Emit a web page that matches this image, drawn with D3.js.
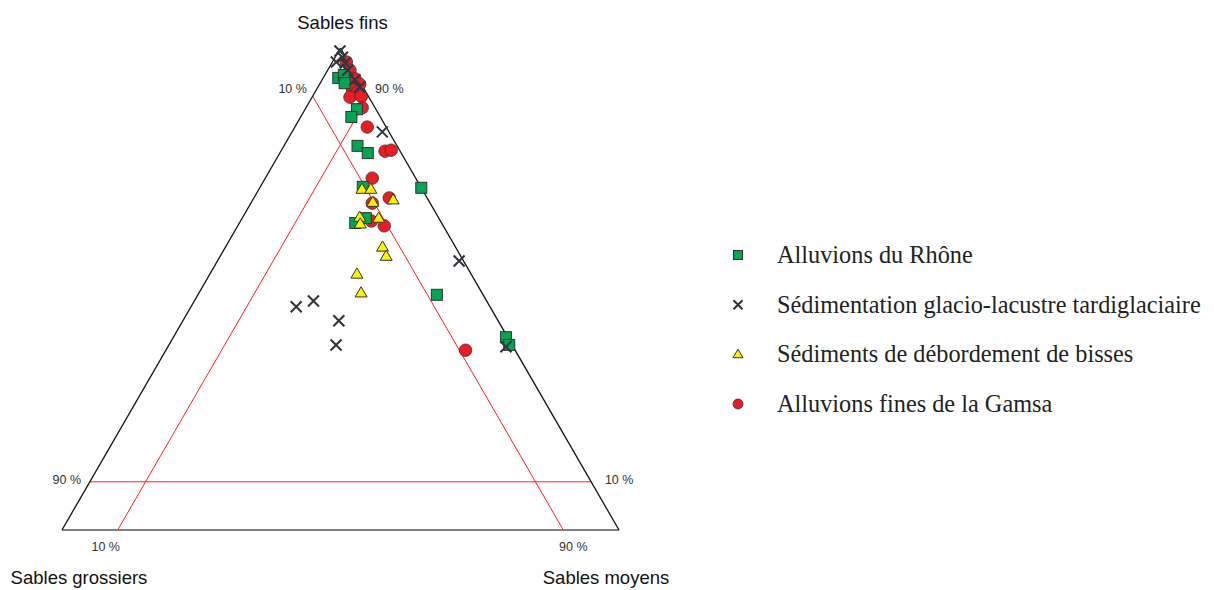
<!DOCTYPE html>
<html>
<head>
<meta charset="utf-8">
<script src="https://cdn.jsdelivr.net/npm/d3@7"></script>
<style>
  html, body { margin: 0; padding: 0; background: #fff; }
  svg { display: block; }
</style>
</head>
<body>
<svg id="chart" width="1214" height="590"></svg>
<script>
// Compositions in percent: [sables fins, sables moyens, sables grossiers]
const rhone = [
  [93.8, 2.7, 3.5], [94.4, 3.4, 2.2], [92.7, 4.4, 2.9], [87.3, 9.3, 3.4],
  [85.7, 9.1, 5.2], [79.7, 13.2, 7.1], [78.2, 15.8, 6.0], [71.0, 29.0, 0.0],
  [71.2, 18.4, 10.4], [63.7, 20.8, 15.5], [64.7, 22.2, 13.1], [48.8, 42.9, 8.3],
  [40.0, 59.7, 0.3], [38.4, 61.1, 0.5]
];
const glacio = [
  [99.4, 0.2, 0.4], [98.1, 1.3, 0.6], [97.1, 0.7, 2.2], [96.9, 2.4, 0.7],
  [95.4, 3.6, 1.0], [93.4, 5.9, 0.7], [91.9, 7.5, 0.6], [82.6, 16.2, 1.2],
  [55.8, 43.4, 0.8], [46.3, 18.9, 34.8], [47.5, 21.4, 31.1], [43.4, 28.0, 28.6],
  [38.4, 30.0, 31.6], [38.0, 60.7, 1.3]
];
const bisses = [
  [70.7, 18.5, 10.8], [70.7, 20.1, 9.2], [68.0, 21.8, 10.2], [68.5, 25.2, 6.3],
  [64.9, 21.0, 14.1], [63.5, 21.8, 14.7], [64.7, 24.5, 10.8], [58.7, 28.2, 13.1],
  [56.8, 29.8, 13.4], [53.1, 26.4, 20.5], [49.2, 29.1, 21.7]
];
const gamsa = [
  [97.1, 2.5, 0.4], [95.4, 4.0, 0.6], [93.6, 5.8, 0.6], [92.5, 7.2, 0.3],
  [91.3, 6.5, 2.2], [90.9, 7.6, 1.5], [89.8, 6.8, 3.4], [90.0, 8.7, 1.3],
  [87.6, 10.1, 2.3], [83.6, 13.0, 3.4], [78.6, 18.7, 2.7], [78.8, 19.7, 1.5],
  [73.0, 19.2, 7.8], [68.9, 24.3, 6.8], [67.8, 21.8, 10.4], [64.1, 23.5, 12.4],
  [63.1, 26.3, 10.6], [37.3, 53.8, 8.9]
];

const vertexNames = ["Sables fins", "Sables grossiers", "Sables moyens"];
const seriesNames = [
  "Alluvions du Rhône",
  "Sédimentation glacio-lacustre tardiglaciaire",
  "Sédiments de débordement de bisses",
  "Alluvions fines de la Gamsa"
];
// 10 % reference lines
const gridLevel = 10;
const tickLabels = ["10 %", "90 %"];

const svg = d3.select("#chart");

// Triangle frame: base from x 62 to 619 at y 530, apex at y 48
const xScale = d3.scaleLinear().domain([0, 100]).range([62, 619]);
const yScale = d3.scaleLinear().domain([0, 100]).range([530, 48]);
// fins -> height, moyens pulls toward the right corner
const proj = d => [xScale(d[1] + d[0] / 2), yScale(d[0])];

const apex = proj([100, 0, 0]);
const left = proj([0, 0, 100]);
const right = proj([0, 100, 0]);

// Reference lines at 10 %
const g = svg.append("g");
const refLines = [
  [[gridLevel, 0, 100 - gridLevel], [gridLevel, 100 - gridLevel, 0]],      // fins = 10
  [[100 - gridLevel, gridLevel, 0], [0, gridLevel, 100 - gridLevel]],      // moyens = 10
  [[100 - gridLevel, 0, gridLevel], [0, 100 - gridLevel, gridLevel]]       // grossiers = 10
];
g.selectAll("line.ref").data(refLines).join("line")
  .attr("class", "ref")
  .attr("x1", d => proj(d[0])[0]).attr("y1", d => proj(d[0])[1])
  .attr("x2", d => proj(d[1])[0]).attr("y2", d => proj(d[1])[1])
  .attr("stroke", "#ff2020").attr("stroke-width", 1);

// Triangle edges
g.append("line")
  .attr("x1", left[0]).attr("y1", left[1]).attr("x2", right[0]).attr("y2", right[1])
  .attr("stroke", "#808080").attr("stroke-width", 2.2);
g.append("line")
  .attr("x1", left[0]).attr("y1", left[1]).attr("x2", apex[0]).attr("y2", apex[1])
  .attr("stroke", "#111").attr("stroke-width", 1.3);
g.append("line")
  .attr("x1", right[0]).attr("y1", right[1]).attr("x2", apex[0]).attr("y2", apex[1])
  .attr("stroke", "#111").attr("stroke-width", 1.3);

// Percent labels at the ends of the reference lines
const pctStyle = sel => sel
  .attr("font-family", "Liberation Sans, Arial, sans-serif")
  .attr("font-size", 12.5).attr("fill", "#333")
  .attr("text-anchor", "middle").attr("dominant-baseline", "central");
const pctLabels = [
  { p: [90, 0, 10], dx: -20, dy: -7, t: tickLabels[0] },
  { p: [90, 10, 0], dx: 21, dy: -7, t: tickLabels[1] },
  { p: [10, 0, 90], dx: -23, dy: -2, t: tickLabels[1] },
  { p: [10, 90, 0], dx: 28, dy: -2, t: tickLabels[0] },
  { p: [0, 10, 90], dx: -12, dy: 17, t: tickLabels[0] },
  { p: [0, 90, 10], dx: 10, dy: 17, t: tickLabels[1] }
];
g.selectAll("text.pct").data(pctLabels).join("text")
  .attr("class", "pct")
  .attr("x", d => proj(d.p)[0] + d.dx)
  .attr("y", d => proj(d.p)[1] + d.dy)
  .text(d => d.t)
  .call(pctStyle);

// Vertex names
const vStyle = sel => sel
  .attr("font-family", "Liberation Sans, Arial, sans-serif")
  .attr("font-size", 18.5).attr("fill", "#111").attr("text-anchor", "middle");
g.append("text").attr("x", apex[0] + 2).attr("y", apex[1] - 19).text(vertexNames[0]).call(vStyle);
g.append("text").attr("x", left[0] + 17).attr("y", left[1] + 54).text(vertexNames[1]).call(vStyle);
g.append("text").attr("x", right[0] - 13).attr("y", right[1] + 54).text(vertexNames[2]).call(vStyle);

// Marker drawers
const stroke = "#333";
function square(sel, s) {
  sel.append("rect").attr("x", -s / 2).attr("y", -s / 2).attr("width", s).attr("height", s)
    .attr("fill", "#00a651").attr("stroke", stroke).attr("stroke-width", 1);
}
function cross(sel, s) {
  const h = s / 2;
  sel.append("path").attr("d", `M${-h},${-h}L${h},${h}M${-h},${h}L${h},${-h}`)
    .attr("stroke", "#30363c").attr("stroke-width", 2.1).attr("fill", "none");
}
function tri(sel, s) {
  const h = s * 0.85;
  sel.append("path").attr("d", `M0,${-h * 0.6}L${s / 2},${h * 0.4}L${-s / 2},${h * 0.4}Z`)
    .attr("fill", "#fff200").attr("stroke", stroke).attr("stroke-width", 1);
}
function circ(sel, s) {
  sel.append("circle").attr("r", s / 2)
    .attr("fill", "#ed1c24").attr("stroke", stroke).attr("stroke-width", 0.8);
}

// Points: circles, squares, triangles, then crosses on top
const layers = [
  { data: gamsa, draw: circ, size: 12.5 },
  { data: rhone, draw: square, size: 11 },
  { data: bisses, draw: tri, size: 12 },
  { data: glacio, draw: cross, size: 11 }
];
layers.forEach(L => {
  svg.append("g").selectAll("g").data(L.data).join("g")
    .attr("transform", d => `translate(${proj(d)[0]},${proj(d)[1]})`)
    .each(function () { L.draw(d3.select(this), L.size); });
});

// Legend
const legendDraw = [square, cross, tri, circ];
const legendSize = [9, 9, 10, 10];
const legY = d3.scaleLinear().domain([0, 3]).range([255, 404]);
const leg = svg.append("g");
seriesNames.forEach((name, i) => {
  const row = leg.append("g").attr("transform", `translate(0,${legY(i)})`);
  const m = row.append("g").attr("transform", "translate(738,0)");
  legendDraw[i](m, legendSize[i]);
  row.append("text").attr("x", 777).attr("y", 8)
    .attr("font-family", "Liberation Serif, Times New Roman, serif")
    .attr("font-size", 24.3).attr("fill", "#222").text(name);
});
</script>
</body>
</html>
